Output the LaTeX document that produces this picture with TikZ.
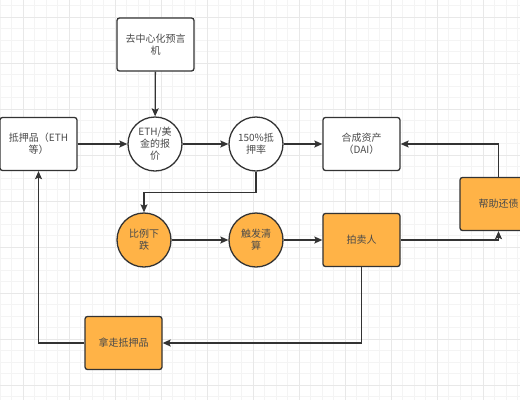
\documentclass[tikz,border=0pt]{standalone}
\usepackage{fontspec}
\setmainfont{Noto Sans CJK SC}
\usetikzlibrary{arrows.meta}
\definecolor{lineC}{HTML}{333333}
\definecolor{txtC}{HTML}{4A4A4A}
\definecolor{orangeC}{HTML}{FFB347}
\definecolor{gridMinor}{HTML}{F4F4F4}
\definecolor{gridMajor}{HTML}{E8E8E8}
\tikzset{
  base/.style={draw=lineC, line width=1.3pt, text=txtC, align=center,
    font=\fontsize{10}{12}\selectfont, inner sep=1pt},
  boxw/.style={base, rectangle, rounded corners=2.5pt, minimum width=77pt, minimum height=53pt, fill=white},
  boxo/.style={boxw, fill=orangeC},
  circw/.style={base, circle, minimum size=54pt, fill=white},
  circo/.style={circw, fill=orangeC},
  conn/.style={draw=lineC, line width=1.3pt, -{Stealth[length=8pt,width=7pt,inset=1.5pt]}},
}
\begin{document}
\begin{tikzpicture}[x=1pt,y=-1pt]
\useasboundingbox (0,0) rectangle (520,400);
\fill[white] (0,0) rectangle (520,400);
% grid
\foreach \x in {0,11.5,...,521} \draw[gridMinor, line width=0.5pt] (\x,0) -- (\x,400);
\foreach \y in {5.5,17,...,401} \draw[gridMinor, line width=0.5pt] (0,\y) -- (520,\y);
\foreach \x in {23,69,...,521} \draw[gridMajor, line width=0.6pt] (\x,0) -- (\x,400);
\foreach \y in {17,63,...,401} \draw[gridMajor, line width=0.6pt] (0,\y) -- (520,\y);

% nodes
\node[boxw] (oracle) at (155.5,44.5) {去中心化预言\\机};
\node[boxw] (coll) at (38.5,144) {抵押品（ETH\\等）};
\node[circw] (price) at (155,144) {ETH/美\\金的报\\价};
\node[circw] (ratio) at (256,144) {150\%抵\\押率};
\node[boxw] (dai) at (361.5,144) {合成资产\\（DAI）};
\node[circo] (drop) at (144,240) {比例下\\跌};
\node[circo] (liq) at (256,240) {触发清\\算};
\node[boxo] (auction) at (361.5,240) {拍卖人};
\node[boxo] (repay) at (498.5,204) {帮助还债};
\node[boxo] (take) at (123.5,343) {拿走抵押品};

% connectors
\draw[conn] (oracle) -- (price);
\draw[conn] (coll) -- (price);
\draw[conn] (price) -- (ratio);
\draw[conn] (ratio) -- (dai);
\draw[conn] (ratio.south) |- (200,192.5) -| (drop.north);
\draw[conn] (drop) -- (liq);
\draw[conn] (liq) -- (auction);
\draw[conn] (auction.east) -| (repay.south);
\draw[conn] (repay.north) |- (dai.east);
\draw[conn] (auction.south) |- (take.east);
\draw[conn] (take.west) -| (coll.south);
\end{tikzpicture}
\end{document}
